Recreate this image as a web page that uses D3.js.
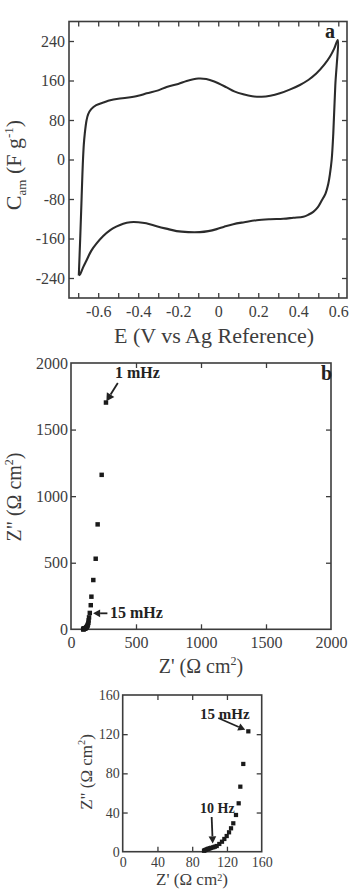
<!DOCTYPE html>
<html><head><meta charset="utf-8">
<script src="https://cdn.jsdelivr.net/npm/d3@7"></script>
<style>
html,body{margin:0;padding:0;background:#fff;}
svg{display:block;font-family:"Liberation Serif","Times New Roman",serif;}
</style></head>
<body><svg id="c" width="358" height="889"></svg>
<script>
// ---------- Panel a: cyclic voltammogram ----------
const cvForwardE = [-0.697,-0.690,-0.684,-0.679,-0.676,-0.672,-0.667,-0.658,-0.650,-0.635,-0.610,-0.570,-0.540,-0.500,-0.458,-0.400,-0.358,-0.300,-0.258,-0.200,-0.158,-0.100,-0.060,-0.020,0.042,0.080,0.125,0.170,0.217,0.260,0.308,0.360,0.408,0.450,0.490,0.530,0.558,0.580,0.597];
const cvForwardC = [-235,-160,-90,-30,0,30,53,80,92,102,110,116,120,123,125,129,134,140,147,153,159,164,163,158,146,138,132,128,127,129,134,142,151,161,174,192,208,225,242];
const cvReverseE = [0.597,0.585,0.575,0.567,0.558,0.550,0.535,0.517,0.497,0.475,0.450,0.425,0.375,0.325,0.260,0.192,0.130,0.075,0.030,-0.008,-0.050,-0.092,-0.150,-0.208,-0.260,-0.308,-0.360,-0.400,-0.440,-0.475,-0.510,-0.540,-0.575,-0.608,-0.635,-0.658,-0.675,-0.690,-0.697];
const cvReverseC = [242,150,53,0,-30,-49,-70,-83,-97,-106,-112,-116,-118,-120,-121,-123,-127,-131,-136,-141,-145,-147,-147,-145,-140,-135,-129,-127,-127,-130,-136,-143,-155,-170,-185,-204,-218,-232,-235];
const xTicksA = [-0.7,-0.6,-0.5,-0.4,-0.3,-0.2,-0.1,0,0.1,0.2,0.3,0.4,0.5,0.6];
const xLabelsA = {"-0.6":"-0.6","-0.4":"-0.4","-0.2":"-0.2","0":"0","0.2":"0.2","0.4":"0.4","0.6":"0.6"};
const yTicksA = [-240,-160,-80,0,80,160,240];

// ---------- Panels b, c: Nyquist plot ----------
const zReal = [93.6,94.5,95.5,96.7,98,99,100.5,102,104.3,106,108.2,111.2,114.3,117,119.7,122.4,124.7,127.3,130.4,133.5,135.4,138.8,144.6,152,157,171.5,190,205,236,269];
const zImag = [1,1.5,1.8,2.4,2.8,3.1,3.5,4,4.5,5.1,5.8,7.9,10.2,13,16,19.8,23.9,29,37.5,49.4,66.4,89.6,122.9,181,245,370,530,788,1160,1703];
const ticksB = [0,500,1000,1500,2000];
const ticksC = [0,40,80,120,160];

const svg = d3.select("#c");
const INK = "#2b2b2b", FRAME = "#3c3c3c", TXT = "#3d3d3d";

function frame(g, x0, x1, y0, y1){
  g.append("rect").attr("x",x0).attr("y",y0).attr("width",x1-x0).attr("height",y1-y0)
   .attr("fill","none").attr("stroke",FRAME).attr("stroke-width",1.6);
}
function styleAxis(sel, fs){
  sel.select(".domain").remove();
  sel.selectAll(".tick line").attr("stroke",FRAME).attr("stroke-width",1.3);
  sel.selectAll(".tick text").attr("fill",TXT).attr("font-size",fs).attr("font-family","Liberation Serif, serif");
}
function arrow(g, x1,y1,x2,y2, head){
  const a = Math.atan2(y2-y1,x2-x1);
  const h = head||7, w = h*0.55;
  const bx = x2 - h*Math.cos(a), by = y2 - h*Math.sin(a);
  g.append("line").attr("x1",x1).attr("y1",y1).attr("x2",bx).attr("y2",by)
   .attr("stroke","#222").attr("stroke-width",1.8);
  g.append("path").attr("d",`M${x2},${y2}L${bx+w*Math.sin(a)},${by-w*Math.cos(a)}L${bx-w*Math.sin(a)},${by+w*Math.cos(a)}Z`)
   .attr("fill","#222");
}

// ===== Panel a =====
{
  const L=69,R=347,T=21.5,B=298;
  const x = d3.scaleLinear().domain([-0.746,0.6435]).range([L,R]);
  const y = d3.scaleLinear().domain([-280.5,279.5]).range([B,T]);
  const g = svg.append("g");
  const fmt = v => { const k = String(Math.round(v*10)/10); return xLabelsA[k]||""; };
  g.append("g").attr("transform",`translate(0,${B})`)
    .call(d3.axisBottom(x).tickValues(xTicksA).tickSize(-5).tickPadding(8).tickFormat(fmt))
    .call(s=>styleAxis(s,16));
  g.append("g").attr("transform",`translate(0,${T})`)
    .call(d3.axisTop(x).tickValues(xTicksA).tickSize(-5).tickFormat(""))
    .call(s=>styleAxis(s,16));
  g.append("g").attr("transform",`translate(${L},0)`)
    .call(d3.axisLeft(y).tickValues(yTicksA).tickSize(-5).tickPadding(4).tickFormat(d=>String(d)))
    .call(s=>styleAxis(s,16));
  g.append("g").attr("transform",`translate(${R},0)`)
    .call(d3.axisRight(y).tickValues(yTicksA).tickSize(-5).tickFormat(""))
    .call(s=>styleAxis(s,16));
  frame(g,L,R,T,B);
  const pts = cvForwardE.map((e,i)=>[e,cvForwardC[i]]).concat(cvReverseE.map((e,i)=>[e,cvReverseC[i]]).slice(1));
  g.append("path").datum(pts)
    .attr("d",d3.line().x(d=>x(d[0])).y(d=>y(d[1])).curve(d3.curveCatmullRom.alpha(0.5)))
    .attr("fill","none").attr("stroke",INK).attr("stroke-width",2.1).attr("stroke-linejoin","round");
  g.append("text").attr("x",325).attr("y",38).attr("font-size",20).attr("font-weight","bold").attr("fill","#222").text("a");
  g.append("text").attr("x",(L+R)/2+6).attr("y",343).attr("text-anchor","middle").attr("font-size",22).attr("fill",TXT)
    .text("E (V vs Ag Reference)");
  const yl = g.append("text").attr("transform",`translate(21,165) rotate(-90)`).attr("text-anchor","middle")
    .attr("font-size",22).attr("fill",TXT);
  yl.append("tspan").text("C");
  yl.append("tspan").attr("font-size",13).attr("dy",5).text("am");
  yl.append("tspan").attr("dy",-5).text(" (F g");
  yl.append("tspan").attr("font-size",13).attr("dy",-8).text("-1");
  yl.append("tspan").attr("dy",8).text(")");
}

function nyquist(L,R,T,B,dom,ticks,fs,opts){
  const x = d3.scaleLinear().domain(dom).range([L,R]);
  const y = d3.scaleLinear().domain(dom).range([B,T]);
  const g = svg.append("g");
  const inner = ticks.slice(1,-1);
  g.append("g").attr("transform",`translate(0,${B})`)
    .call(d3.axisBottom(x).tickValues(ticks).tickSize(-5).tickPadding(opts.xpad).tickFormat(d=>String(d)))
    .call(s=>styleAxis(s,fs));
  g.selectAll(".tick line").filter(d=>d===dom[0]||d===dom[1]).remove();
  g.append("g").attr("transform",`translate(0,${T})`)
    .call(d3.axisTop(x).tickValues(inner).tickSize(-5).tickFormat("")).call(s=>styleAxis(s,fs));
  const ly = g.append("g").attr("transform",`translate(${L},0)`)
    .call(d3.axisLeft(y).tickValues(ticks).tickSize(-5).tickPadding(3).tickFormat(d=>String(d)))
    .call(s=>styleAxis(s,fs));
  ly.selectAll(".tick line").filter(d=>d===dom[0]||d===dom[1]).remove();
  g.append("g").attr("transform",`translate(${R},0)`)
    .call(d3.axisRight(y).tickValues(inner).tickSize(-5).tickFormat("")).call(s=>styleAxis(s,fs));
  frame(g,L,R,T,B);
  const data = zReal.map((v,i)=>[v,zImag[i]]).filter(d=>d[0]<=dom[1]&&d[1]<=dom[1]);
  g.selectAll("path.pt").data(data).join("path").attr("class","pt")
    .attr("transform",d=>`translate(${x(d[0])},${y(d[1])})`)
    .attr("d",d3.symbol(d3.symbolSquare,opts.msize)).attr("fill","#1a1a1a");
  return {g,x,y};
}
function nyLabels(g,cx,xy,yx,yy,fs,sup){
  const s = sup||0.4;
  const xl = g.append("text").attr("x",cx).attr("y",xy).attr("text-anchor","middle").attr("font-size",fs).attr("fill",TXT);
  xl.append("tspan").text("Z' (Ω cm");
  xl.append("tspan").attr("font-size",fs*0.6).attr("dy",-fs*s).text("2");
  xl.append("tspan").attr("dy",fs*s).text(")");
  const yl = g.append("text").attr("transform",`translate(${yx},${yy}) rotate(-90)`).attr("text-anchor","middle").attr("font-size",fs).attr("fill",TXT);
  yl.append("tspan").text('Z" (Ω cm');
  yl.append("tspan").attr("font-size",fs*0.6).attr("dy",-fs*0.4).text("2");
  yl.append("tspan").attr("dy",fs*0.4).text(")");
}

// ===== Panel b =====
{
  const {g,x,y} = nyquist(71,331,363,629.3,[0,2000],ticksB,16,{xpad:7,msize:20});
  g.append("text").attr("x",321).attr("y",380).attr("font-size",20).attr("font-weight","bold").attr("fill","#222").text("b");
  g.append("text").attr("x",x(338)).attr("y",y(1885)).attr("font-size",16).attr("font-weight","bold").attr("fill","#222").text("1 mHz");
  arrow(g,x(360),y(1850),x(272),y(1712),8);
  g.append("text").attr("x",x(300)).attr("y",y(85)).attr("font-size",16).attr("font-weight","bold").attr("fill","#222").text("15 mHz");
  arrow(g,x(280),y(120),x(170),y(120),7);
  nyLabels(g,201,673,21,497,20);
}

// ===== Panel c =====
{
  const {g,x,y} = nyquist(122.7,261.7,695,851.7,[0,160],ticksC,14,{xpad:5,msize:18});
  g.append("text").attr("x",x(89)).attr("y",y(135.5)).attr("font-size",15).attr("font-weight","bold").attr("fill","#222").text("15 mHz");
  arrow(g,x(110),y(136.5),x(141),y(124.5),7);
  g.append("text").attr("x",x(89)).attr("y",y(39.5)).attr("font-size",14).attr("font-weight","bold").attr("fill","#222").text("10 Hz");
  arrow(g,x(102.4),y(35.4),x(103.6),y(8.5),7);
  nyLabels(g,192,885,92,772,17,0.25);
}
</script></body></html>
